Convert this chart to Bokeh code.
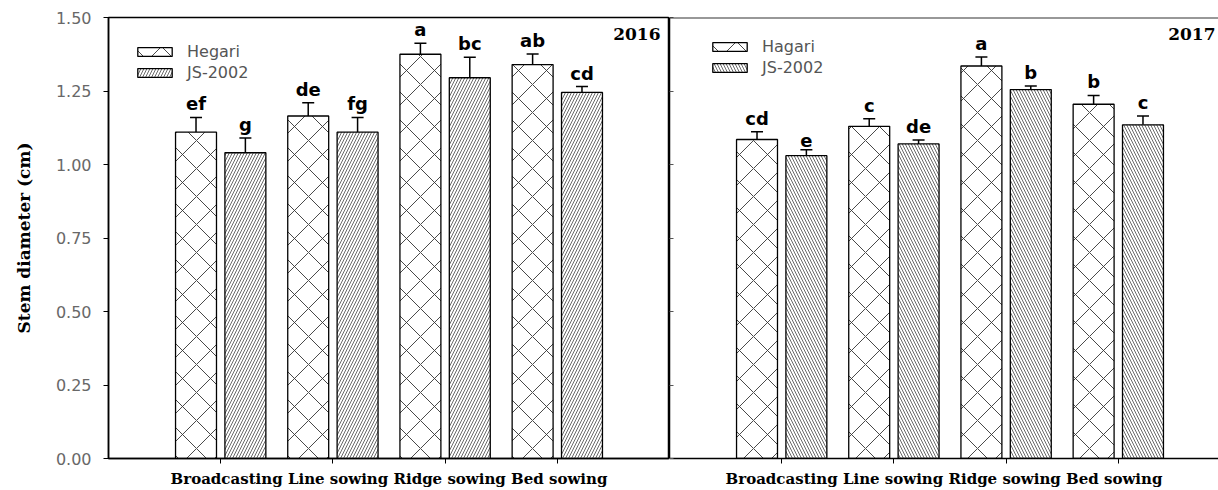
from bokeh.plotting import figure
from bokeh.models import (ColumnDataSource, Whisker, TeeHead, Legend, LegendItem,
                          Label, Span, FixedTicker, NumeralTickFormatter, Range1d)
from bokeh.layouts import row
from bokeh.embed import file_html
from bokeh.resources import INLINE
from bokeh.core.properties import value

# ---------------- data ----------------
categories = ["Broadcasting", "Line sowing", "Ridge sowing", "Bed sowing"]
x_title = "Broadcasting Line sowing Ridge sowing Bed sowing"
y_ticks = [0.0, 0.25, 0.5, 0.75, 1.0, 1.25, 1.5]

hegari_2016 = [1.11, 1.165, 1.375, 1.34]
hegari_2016_err = [0.05, 0.045, 0.037, 0.036]
js_2016 = [1.04, 1.11, 1.295, 1.245]
js_2016_err = [0.05, 0.05, 0.07, 0.02]
letters_h_2016 = ["ef", "de", "a", "ab"]
letters_j_2016 = ["g", "fg", "bc", "cd"]

hegari_2017 = [1.085, 1.13, 1.335, 1.205]
hegari_2017_err = [0.026, 0.026, 0.031, 0.03]
js_2017 = [1.03, 1.07, 1.255, 1.135]
js_2017_err = [0.02, 0.013, 0.012, 0.03]
letters_h_2017 = ["cd", "c", "a", "b"]
letters_j_2017 = ["e", "de", "b", "c"]

TOP, FRAME_H = 17, 444
H = 490
BOTTOM_B = H - TOP - FRAME_H
BAR_W = 0.365
OFF = 0.22
PX_PER_UNIT = 561 / 5.0


def make_panel(h_vals, h_err, j_vals, j_err, h_let, j_let, year, year_dx, js_hatch,
               h_name, j_name, width, x_end, left_border, first):
    p = figure(width=width, height=H, output_backend="svg", toolbar_location=None,
               x_range=Range1d(0, x_end), y_range=Range1d(0, 1.5),
               min_border_left=left_border, min_border_right=0,
               min_border_top=TOP, min_border_bottom=BOTTOM_B)
    p.xgrid.visible = False
    p.ygrid.visible = False
    p.background_fill_color = "white"
    p.border_fill_color = "white"
    if first:
        p.outline_line_color = "black"
        p.outline_line_width = 1.5
    else:
        p.outline_line_color = None
        p.add_layout(Span(location=1.5, dimension="width", line_color="#333333",
                          line_width=2))

    xs = [i + 1 for i in range(len(categories))]
    hx = [x - OFF for x in xs]
    jx = [x + OFF for x in xs]

    hsrc = ColumnDataSource(dict(x=hx, top=h_vals, up=[v + e for v, e in zip(h_vals, h_err)], lab=h_let))
    jsrc = ColumnDataSource(dict(x=jx, top=j_vals, up=[v + e for v, e in zip(j_vals, j_err)], lab=j_let))

    rh = p.vbar(x="x", top="top", width=BAR_W, source=hsrc, fill_color="white",
                line_color="black", line_width=1.3, hatch_pattern="diagonal_cross",
                hatch_scale=28, hatch_weight=0.9, hatch_color="#333333")
    rj = p.vbar(x="x", top="top", width=BAR_W, source=jsrc, fill_color="white",
                line_color="black", line_width=1.3, hatch_pattern=js_hatch,
                hatch_scale=6, hatch_weight=0.8, hatch_color="#444444")

    for src in (hsrc, jsrc):
        p.add_layout(Whisker(base="x", lower="top", upper="up", source=src,
                             line_color="black", line_width=1.5, lower_head=None,
                             upper_head=TeeHead(size=12, line_color="black", line_width=1.5)))
        p.text(x="x", y="up", text="lab", source=src, text_align="center",
               text_baseline="bottom", y_offset=-3,
               text_font=value("DejaVu Sans"), text_font_style="bold",
               text_font_size="18px", text_color="black")

    # x axis: ticks only, the category string is the axis title
    xa = p.xaxis[0]
    xa.ticker = FixedTicker(ticks=xs)
    xa.major_label_text_color = None
    xa.major_label_text_font_size = "1px"
    xa.major_label_standoff = 0
    xa.major_tick_out = 5
    xa.major_tick_in = 0
    xa.minor_tick_line_color = None
    xa.axis_line_width = 1.5
    xa.axis_line_color = "black"
    xa.axis_label = x_title
    xa.axis_label_standoff = 6
    xa.axis_label_text_font = "DejaVu Serif"
    xa.axis_label_text_font_style = "bold"
    xa.axis_label_text_font_size = "15px"
    xa.axis_label_text_color = "black"

    ya = p.yaxis[0]
    ya.ticker = FixedTicker(ticks=y_ticks)
    ya.minor_tick_line_color = None
    ya.axis_line_width = 1.5
    ya.axis_line_color = "black"
    if first:
        ya.formatter = NumeralTickFormatter(format="0.00")
        ya.major_tick_out = 5
        ya.major_tick_in = 0
        ya.major_label_standoff = 12
        ya.major_label_text_font = "DejaVu Sans"
        ya.major_label_text_font_size = "16px"
        ya.major_label_text_color = "#686868"
        ya.axis_label = "Stem diameter (cm)"
        ya.axis_label_text_font = "DejaVu Serif"
        ya.axis_label_text_font_style = "bold"
        ya.axis_label_text_font_size = "17px"
        ya.axis_label_text_color = "black"
        ya.axis_label_standoff = 19
    else:
        ya.major_label_text_color = None
        ya.major_label_text_font_size = "1px"
        ya.major_label_standoff = 0
        ya.major_tick_out = 0
        ya.major_tick_in = 4
        ya.major_tick_line_color = "#555555"

    p.add_layout(Label(x=5, y=1.5, x_offset=year_dx, y_offset=-10, text=year,
                       text_align="right", text_baseline="top",
                       text_font="DejaVu Serif", text_font_style="bold",
                       text_font_size="17px", text_color="black"))

    items = [LegendItem(label=h_name, renderers=[rh]), LegendItem(label=j_name, renderers=[rj])]
    if first:
        leg = Legend(items=items, location="top_left", margin=25)
    else:
        leg = Legend(items=items, location=(39, 381), margin=0)
    leg.padding = 0
    leg.spacing = 2
    leg.glyph_width = 43
    leg.glyph_height = 11
    leg.label_standoff = 11
    leg.label_text_font = "DejaVu Sans"
    leg.label_text_font_size = "16px"
    leg.label_text_color = "#555555"
    leg.border_line_color = None
    leg.background_fill_alpha = 0
    p.add_layout(leg)
    return p


LEFT_W = 669
RIGHT_W = 1218 - LEFT_W
p1 = make_panel(hegari_2016, hegari_2016_err, js_2016, js_2016_err,
                letters_h_2016, letters_j_2016, "2016", -9, "right_diagonal_line",
                "Hegari", "JS-2002", width=LEFT_W, x_end=5.0, left_border=108, first=True)
p2 = make_panel(hegari_2017, hegari_2017_err, js_2017, js_2017_err,
                letters_h_2017, letters_j_2017, "2017", -15, "left_diagonal_line",
                "Hagari", "JS-2002", width=RIGHT_W, x_end=RIGHT_W / PX_PER_UNIT,
                left_border=0, first=False)

layout = row(p1, p2, spacing=0)
open("out.html", "w").write(file_html(layout, INLINE))
